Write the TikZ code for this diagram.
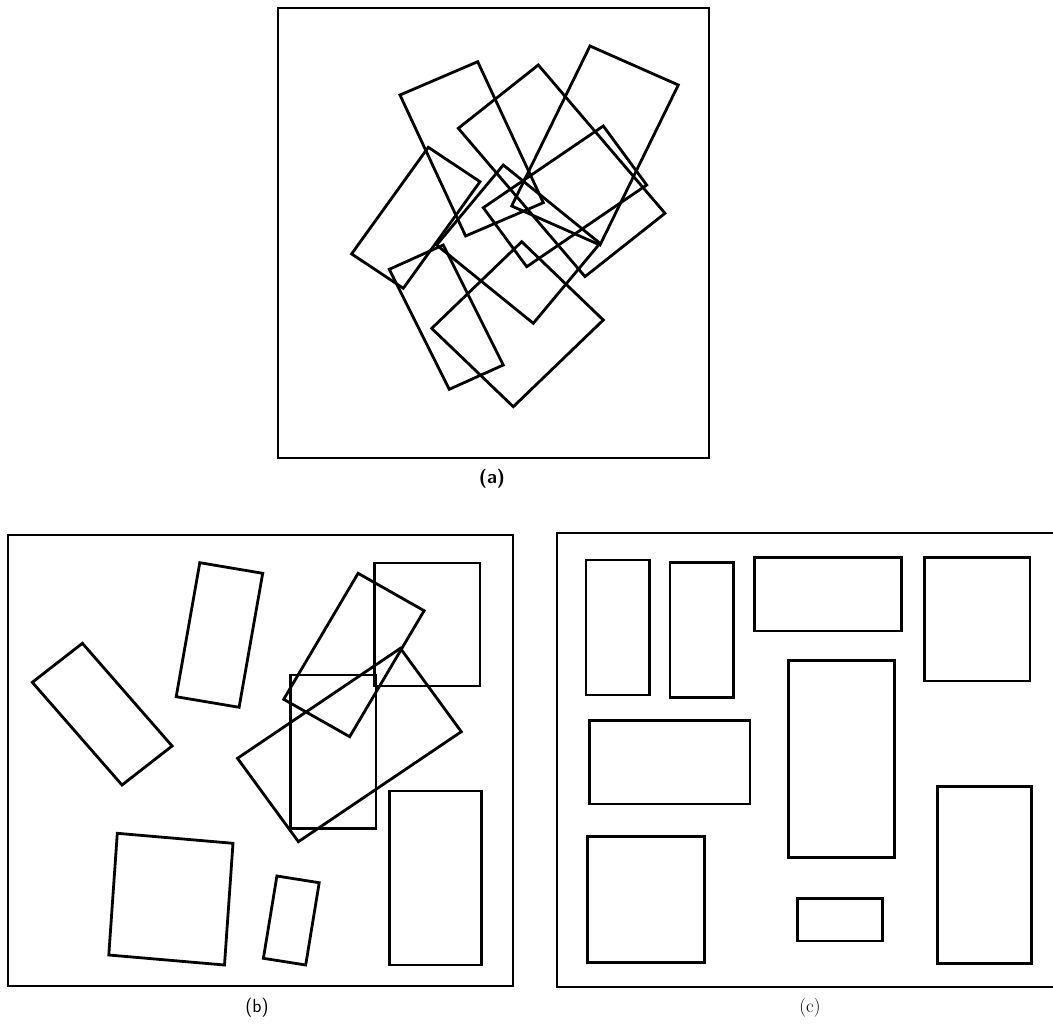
\documentclass[tikz,border=0pt]{standalone}
\usepackage{tikz}
\tikzset{
  frame/.style={line width=2pt},
  box/.style={line width=2.8pt,line join=miter},
  tag/.style={font=\fontsize{19}{22}\selectfont}
}
\begin{document}
\begin{tikzpicture}[x=1pt,y=-1pt]
    \useasboundingbox (0,0) rectangle (1053,1025);
    \clip (0,0) rectangle (1053,1025);

    % Panel (a): all parts piled up
    \draw[frame] (278,8) rectangle (709,458);
    \foreach \ax/\ay/\bx/\by/\cx/\cy in {
        400/95/477.7/61.7/543.3/202.7,
        458.3/128.3/538.3/65/665/213.3,
        590/46/678.3/85/600/245,
        603.3/126/646.7/185/526.7/266.7,
        503.3/165/600/243.3/533.3/323.3,
        428.3/147.3/480/181.7/403.3/288.3,
        389.3/269.3/443.3/245/503.3/365,
        521.7/241.7/603.3/320/513.3/406.7}
      \draw[box] (\ax,\ay) -- (\bx,\by) -- (\cx,\cy)
        -- ({\ax+\cx-\bx},{\ay+\cy-\by}) -- cycle;
    \node[tag,font=\fontsize{19}{22}\selectfont\sffamily\bfseries] (taga) at (492,479) {(a)};

    % Panel (b): spread out, some still overlap
    \draw[frame] (8,535) rectangle (513,986);
    \foreach \ax/\ay/\bx/\by/\cx/\cy in {
        82.4/643.3/172.1/746/122/785,
        199.8/562.7/262.7/573.3/239.1/707.3,
        358.1/573.3/424.1/610.7/349.7/736.7,
        400.4/648.3/461.3/731.7/298.4/841.7,
        117.3/833.3/233/843.3/224.5/965,
        276.9/876/319.2/882.7/305.7/965}
      \draw[box] (\ax,\ay) -- (\bx,\by) -- (\cx,\cy)
        -- ({\ax+\cx-\bx},{\ay+\cy-\by}) -- cycle;
    \foreach \xa/\ya/\xb/\yb in {374.4/562.7/479.9/685.7, 290.5/675/375.7/828.3,
                                 389.3/790.7/481.6/965}
      \draw[box,line width=2.4pt] (\xa,\ya) rectangle (\xb,\yb);
    \node[tag,font=\fontsize{19}{22}\selectfont\sffamily] (tagb) at (257,1008) {(b)};

    % Panel (c): final layout
    \draw[frame] (557,533) rectangle (1080,987);
    \foreach \xa/\ya/\xb/\yb in {586/560/649.3/695, 670/562.3/733.3/697.7,
                                 754.3/557.3/901.7/631, 924.3/557.3/1030/681,
                                 589.3/720.7/750/804, 788.3/660.7/894.3/857.3,
                                 587.3/836.7/704.3/962.3, 797.7/898.3/882.3/941,
                                 937.7/786.7/1031.7/963.3}
      \draw[box] (\xa,\ya) rectangle (\xb,\yb);
    \node[tag] (tagc) at (810,1008) {(c)};
\end{tikzpicture}
\end{document}
